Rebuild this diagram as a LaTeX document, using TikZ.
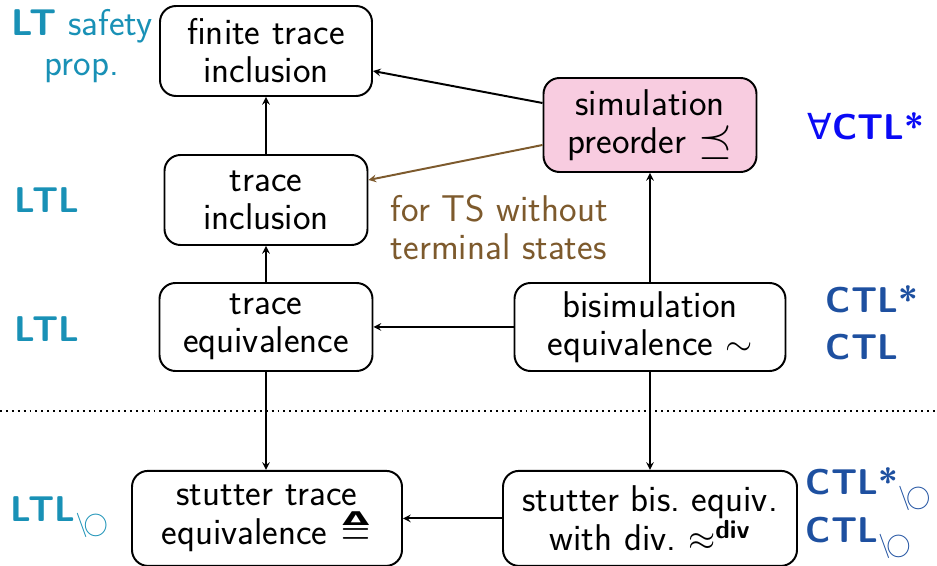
\documentclass[tikz,border=0pt]{standalone}
\usepackage{amsmath}
\usepackage{fontspec}
\renewcommand{\familydefault}{\sfdefault}
\newfontfamily\symfont{DejaVu Sans}
\usetikzlibrary{arrows}

\definecolor{ltlteal}{RGB}{25,145,182}
\definecolor{actlblue}{RGB}{10,10,245}
\definecolor{ctlblue}{RGB}{30,80,160}
\definecolor{tsbrown}{RGB}{125,90,45}
\definecolor{simpink}{RGB}{248,204,224}

% "without next" subscript and stutter trace equivalence sign
\newcommand{\nonext}{\raisebox{-6.5pt}{\fontsize{19}{19}\selectfont\mdseries$\setminus\!\bigcirc$}}
\newcommand{\stuteq}{\raisebox{-1pt}{\scalebox{1.15}{\vbox{\offinterlineskip
  \hbox to 20.6pt{\hss\scalebox{1.2}[0.65]{\fontsize{18}{18}\selectfont\symfont\bfseries Δ}\hss}
  \kern2pt
  \hbox to 20.6pt{\hss\scalebox{1}[1.25]{$=$}\hss}}}}}
\newcommand{\simpre}{\scalebox{1.25}{$\preceq$}}

\begin{document}
\begin{tikzpicture}[->,>=stealth,line width=1.4pt,
  rel node/.style={draw,rounded corners=0.4cm,align=center,inner sep=0pt,minimum height=2.25cm,font=\fontsize{26.5}{27}\selectfont},
  logic/.style={inner sep=0pt,font=\fontsize{25.5}{29}\selectfont\bfseries}]
  \useasboundingbox (0,0) rectangle (23.425,14.15);

  % relations
  \node[rel node,minimum width=5.3cm] (fti) at (6.65,12.875) {finite trace\\inclusion};
  \node[rel node,minimum width=5.325cm,minimum height=2.35cm,fill=simpink] (sim) at (16.25,11.025) {simulation\\preorder \simpre};
  \node[rel node,minimum width=5.075cm] (ti) at (6.65,9.15) {trace\\inclusion};
  \node[rel node,minimum width=5.325cm,minimum height=2.2cm] (te) at (6.65,5.975) {trace\\equivalence};
  \node[rel node,minimum width=6.775cm,minimum height=2.2cm] (bis) at (16.25,5.975) {bisimulation\\equivalence $\sim$};
  \node[rel node,minimum width=6.75cm,minimum height=2.375cm] (ste) at (6.675,1.19) {stutter trace\\[1pt]equivalence \stuteq};
  \node[rel node,minimum width=7.35cm,minimum height=2.375cm] (sbe) at (16.25,1.19) {stutter bis.\ equiv.\\with div.\ $\approx^{\textbf{div}}$};

  % logics
  \node[logic,text=ltlteal,anchor=north,align=center,font=\fontsize{26.5}{28.5}\selectfont] (ltsafe) at (2.05,13.95) {\textbf{LT} safety\\prop.};
  \node[logic,text=ltlteal,anchor=base west] (ltl1) at (0.35,8.825) {LTL};
  \node[logic,text=ltlteal,anchor=base west] (ltl2) at (0.35,5.6) {LTL};
  \node[logic,text=ltlteal,anchor=base west] (ltl3) at (0.25,1.1) {LTL\nonext};
  \node[logic,text=actlblue,anchor=base west] (actl) at (20.175,10.65) {{\symfont\mdseries ∀}CTL*};
  \node[logic,text=ctlblue,anchor=base west] (ctls) at (20.625,6.325) {CTL*};
  \node[logic,text=ctlblue,anchor=base west] (ctl) at (20.625,5.15) {CTL};
  \node[logic,text=ctlblue,anchor=base west] (ctlsx) at (20.125,1.775) {CTL*\nonext};
  \node[logic,text=ctlblue,anchor=base west] (ctlx) at (20.125,0.575) {CTL\nonext};

  \node[text=tsbrown,anchor=north west,inner sep=0pt,align=left,font=\fontsize{26.5}{27}\selectfont] (nots) at (9.75,9.3) {for TS without\\terminal states};

  % implications
  \draw (ti) -- (fti);
  \draw (te) -- (ti);
  \draw (te) -- (te |- ste.north);
  \draw (bis) -- (sim);
  \draw (bis) -- (sbe);
  \draw (bis) -- (te);
  \draw (sbe) -- (ste);
  \draw ([yshift=0.55cm]sim.west) -- ([yshift=-0.5cm]fti.east);
  \draw[tsbrown] ([yshift=-0.5cm]sim.west) -- ([yshift=0.5cm]ti.east);

  % separator
  \coordinate (sepL) at (0,3.875);
  \coordinate (sepR) at (23.425,3.875);
  \draw[-,dash pattern=on 1.4pt off 2.8pt] (sepL) -- (sepR);
\end{tikzpicture}
\end{document}
